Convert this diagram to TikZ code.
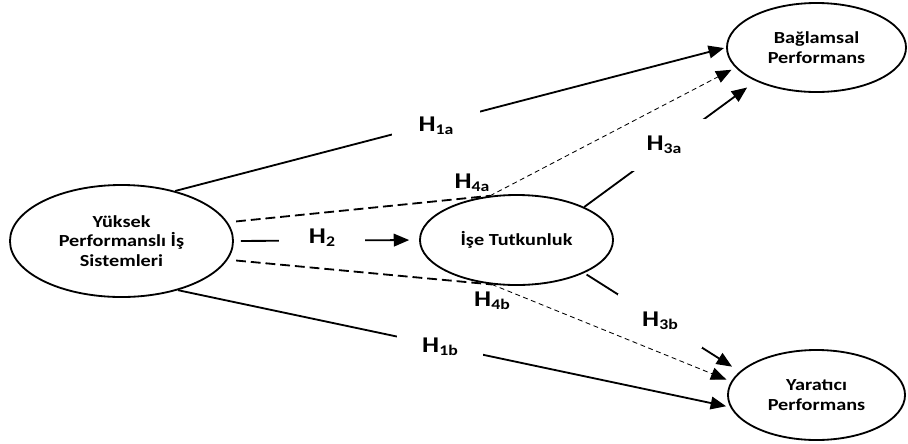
\documentclass[tikz,border=0pt]{standalone}
\usepackage{fontspec}
\setmainfont{Carlito}[FakeStretch=1.2]
\usetikzlibrary{shapes.geometric,arrows.meta}
\newcommand{\hsub}[1]{H\raisebox{-2pt}{\fontsize{10.5}{12}\selectfont #1}}

\begin{document}
\begin{tikzpicture}[x=0.025cm,y=-0.025cm,
    var/.style={draw,ellipse,line width=1.3pt,inner sep=0pt,align=center,font=\fontsize{12}{14}\selectfont\bfseries},
    link/.style={line width=1.3pt,-{Triangle[length=11pt,width=9pt]}},
    medline/.style={line width=1.3pt,dash pattern=on 7pt off 3.5pt},
    medarrow/.style={line width=0.6pt,dash pattern=on 3.5pt off 2.5pt,-{Triangle[length=11pt,width=9pt]}},
    hyp/.style={font=\fontsize{16}{19}\selectfont\bfseries},
    gapbox/.style={hyp,fill=white,inner sep=0pt}]
    \useasboundingbox (0,0) rectangle (908,443);

    \node[var,minimum width=5.575cm,minimum height=2.8cm] (yps) at (121.5,241) {Yüksek\\Performanslı İş\\Sistemleri};
    \node[var,minimum width=4.825cm,minimum height=2.25cm] (tut) at (516.5,240) {İşe Tutkunluk};
    \node[var,minimum width=4.475cm,minimum height=2.225cm] (bag) at (816.5,47.5) {Bağlamsal\\Performans};
    \node[var,minimum width=4.425cm,minimum height=2.25cm] (yar) at (816.5,395) {Yaratıcı\\Performans};

    \draw[link,shorten >=1.5pt] (yps.43) -- (bag.180);
    \draw[link,shorten >=3pt] (yps.-41) -- (yar.188);
    \draw[link,shorten <=5pt,shorten >=7pt] (yps.east) -- (tut.west);
    \draw[link,shorten >=7.6pt] (tut.26) -- (bag.209);
    \draw[link,shorten <=2pt,shorten >=6.4pt] (tut.-26) -- (yar.163);

    \node[gapbox,minimum width=2.2cm,minimum height=1.2cm] (h1a) at (436,126) {\hsub{1a}};
    \node[gapbox,minimum width=2.125cm,minimum height=1cm] (h2) at (322,238) {\hsub{2}};
    \node[gapbox,minimum width=2.1cm,minimum height=1.3cm] (h3a) at (664,145) {\hsub{3a}};
    \node[gapbox,minimum width=2.1cm,minimum height=1.35cm] (h3b) at (660,321) {\hsub{3b}};
    \node[gapbox,minimum width=2.15cm,minimum height=1cm] (h1b) at (440,347) {\hsub{1b}};

    \draw[medline,shorten <=6pt] (yps.10) -- (tut.121);
    \draw[medline,shorten <=6pt] (yps.-10) -- (tut.-119);
    \draw[medarrow,shorten >=3.2pt] (tut.121) -- (bag.194);
    \draw[medarrow,shorten >=3.6pt] (tut.-119) -- (yar.171);

    \node[hyp] (h4a) at (472,183) {\hsub{4a}};
    \node[hyp] (h4b) at (492,301) {\hsub{4b}};
\end{tikzpicture}
\end{document}
